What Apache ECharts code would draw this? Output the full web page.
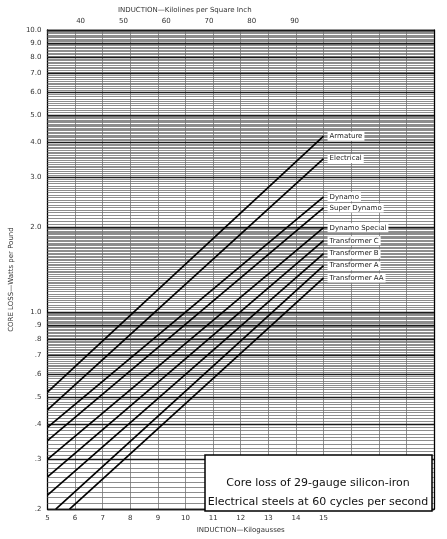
<!DOCTYPE html>
<html><head><meta charset="utf-8">
<script src="https://cdn.jsdelivr.net/npm/echarts@6/dist/echarts.min.js"></script>
<style>html,body{margin:0;padding:0;background:#fff}#c{width:447px;height:539px}</style>
</head><body><div id="c"></div>
<script>
// Core loss (watts per pound) vs induction (kilogausses)
const seriesNames = ['Armature','Electrical','Dynamo','Super Dynamo','Dynamo Special','Transformer C','Transformer B','Transformer A','Transformer AA'];
const armature      = [[5.0,0.52],[15.0,4.2]];
const electrical    = [[5.0,0.45],[15.0,3.5]];
const dynamo        = [[5.0,0.39],[15.0,2.56]];
const superDynamo   = [[5.0,0.35],[15.0,2.34]];
const dynamoSpecial = [[5.0,0.30],[15.0,1.99]];
const transformerC  = [[5.0,0.26],[15.0,1.79]];
const transformerB  = [[5.0,0.224],[15.0,1.61]];
const transformerA  = [[5.3,0.2],[15.0,1.46]];
const transformerAA = [[5.8,0.2],[15.0,1.32]];
const seriesData = [armature,electrical,dynamo,superDynamo,dynamoSpecial,transformerC,transformerB,transformerA,transformerAA];

const yTickValues = [0.2,0.3,0.4,0.5,0.6,0.7,0.8,0.9,1,2,3,4,5,6,7,8,9,10];
const yTickLabels = ['.2','.3','.4','.5','.6','.7','.8','.9','1.0','2.0','3.0','4.0','5.0','6.0','7.0','8.0','9.0','10.0'];
const xTickValues = [5,6,7,8,9,10,11,12,13,14,15];
const topTickValues = [40,50,60,70,80,90];
const KL_PER_KG = 6.4516;

// log-paper ruling (grid only)
const minorRuling = [];
for (let v = 0.21; v < 1; v += 0.01) minorRuling.push(+v.toFixed(3));
for (let v = 1.02; v < 2; v += 0.02) minorRuling.push(+v.toFixed(3));
for (let v = 2.05; v < 5; v += 0.05) minorRuling.push(+v.toFixed(3));
for (let v = 5.1; v < 10; v += 0.1) minorRuling.push(+v.toFixed(3));

const chart = echarts.init(document.getElementById('c'), null, {renderer:'canvas'});
const font = 'DejaVu Sans';
const series = seriesNames.map((n,i)=>({
  name:n, type:'line', data:seriesData[i], symbol:'none', xAxisIndex:0, yAxisIndex:0,
  lineStyle:{color:'#000', width:1.7}, z:5,
  endLabel:{show:true, formatter:'{a}', fontSize:7, fontFamily:font, color:'#222',
    backgroundColor:'#fff', padding:[1,2], distance:4}
}));
series.push({
  type:'line', data:[], xAxisIndex:0, yAxisIndex:0, silent:true, z:1,
  markLine:{silent:true, symbol:'none', label:{show:false},
    lineStyle:{color:'#707070', width:0.8, type:'solid'},
    data: minorRuling.map(v=>({yAxis:v}))}
});
series.push({
  type:'line', data:[], xAxisIndex:0, yAxisIndex:0, silent:true, z:2,
  markLine:{silent:true, symbol:'none', label:{show:false},
    lineStyle:{color:'#1a1a1a', width:1.3, type:'solid'},
    data: yTickValues.map(v=>({yAxis:v}))}
});

chart.setOption({
  animation:false,
  backgroundColor:'#fff',
  grid:{left:39, right:13, top:30, bottom:29},
  xAxis:[{
    type:'value', min:5, max:19, interval:1, position:'bottom',
    axisLine:{show:true, lineStyle:{color:'#000', width:1.3}},
    axisTick:{show:false},
    axisLabel:{fontSize:7, fontFamily:font, color:'#333', margin:6,
      formatter:v=> (v<=15 ? String(v) : '')},
    splitLine:{show:true, lineStyle:{color:'#888', width:0.9}},
    name:'INDUCTION—Kilogausses', nameLocation:'middle', nameGap:17,
    nameTextStyle:{fontSize:7, fontFamily:font, color:'#333'}
  },{
    type:'value', min:5*KL_PER_KG, max:19*KL_PER_KG, position:'top',
    axisLine:{show:true, lineStyle:{color:'#000', width:1.3}},
    axisTick:{show:false},
    axisLabel:{fontSize:7, fontFamily:font, color:'#333', margin:5, customValues:topTickValues},
    splitLine:{show:false}
  }],
  yAxis:[{
    type:'log', min:0.2, max:10, logBase:10,
    axisLine:{show:true, lineStyle:{color:'#000', width:1.3}},
    axisTick:{show:false},
    axisLabel:{fontSize:7, fontFamily:font, color:'#333', margin:6, customValues:yTickValues,
      formatter:v=>{const i=yTickValues.findIndex(t=>Math.abs(t-v)<1e-6); return i>=0?yTickLabels[i]:'';}},
    splitLine:{show:false},
    name:'CORE LOSS—Watts per Pound', nameLocation:'middle', nameGap:28, nameRotate:90,
    nameTextStyle:{fontSize:7, fontFamily:font, color:'#333', padding:[0,0,0,-20]}
  },{
    type:'log', min:0.2, max:10, position:'right',
    axisLine:{show:true, lineStyle:{color:'#000', width:1.3}},
    axisTick:{show:false}, axisLabel:{show:false}, splitLine:{show:false}
  }],
  series:series,
  graphic:[
    {type:'text', left:118, top:7, z:10,
     style:{text:'INDUCTION—Kilolines per Square Inch', font:'7px DejaVu Sans', fill:'#333'}},
    {type:'rect', shape:{x:205, y:455, width:227, height:56}, z:20,
     style:{fill:'#fff', stroke:'#000', lineWidth:1.5}},
    {type:'text', z:21, x:318, y:483,
     style:{text:'Core loss of 29-gauge silicon-iron', font:'11px DejaVu Sans', fill:'#111', textAlign:'center', textVerticalAlign:'middle'}},
    {type:'text', z:21, x:318, y:502,
     style:{text:'Electrical steels at 60 cycles per second', font:'11px DejaVu Sans', fill:'#111', textAlign:'center', textVerticalAlign:'middle'}}
  ]
});
</script></body></html>
